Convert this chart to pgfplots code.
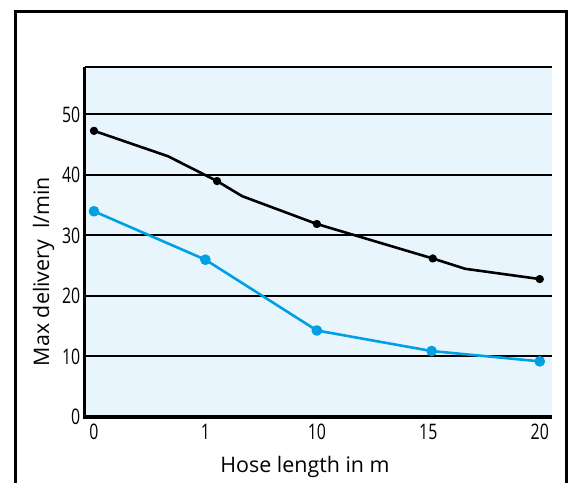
\documentclass[border=0pt]{standalone}
\usepackage{pgfplots}
\pgfplotsset{compat=1.18}
\usepackage{graphicx}
\usepackage{fontspec}
\setmainfont{Open Sans}
\definecolor{bgblue}{RGB}{232,245,253}
\definecolor{lineblue}{RGB}{0,160,227}
\newcommand{\cond}[1]{\scalebox{0.74}[1]{#1}}
\begin{document}
\begin{tikzpicture}
\useasboundingbox (0,0) rectangle (571bp,483bp);
\draw[line width=3bp] (15bp,0) -- (15bp,471.3bp) -- (566bp,471.3bp) -- (566bp,0);
\begin{axis}[
  at={(84.5bp,66bp)}, anchor=south west,
  scale only axis, width=467.5bp, height=349.7bp,
  xmin=-0.085, xmax=4.11, ymin=0, ymax=57.8,
  axis line style={draw=none},
  major tick length=0pt,
  clip=false,
  axis background/.style={fill=bgblue},
  ymajorgrids, grid style={black, line width=2bp},
  xtick={0,1,2,3,4},
  xticklabels={\cond{0},\cond{1},\cond{10},\cond{15},\cond{20}},
  ytick={0,10,20,30,40,50},
  yticklabels={\cond{0},\cond{10},\cond{20},\cond{30},\cond{40},\cond{50}},
  tick label style={font=\fontsize{21.5}{22}\selectfont, inner sep=0pt},
  yticklabel style={anchor=east, xshift=-4bp},
  xticklabel style={anchor=north, yshift=-7bp},
  xlabel={Hose length in m},
  ylabel={Max delivery\ \ l/min},
  label style={font=\fontsize{21.5}{22}\selectfont, inner sep=0pt},
  xlabel style={at={(axis description cs:0.4717,-0.160)}, anchor=base},
  ylabel style={at={(axis description cs:-0.0759,0.416)}, anchor=base},
]
\addplot[black, line width=2.6bp, line join=round, mark=*, mark size=2.8bp,
  mark indices={1,3,5,6,8}, mark options={solid, fill=black}]
  coordinates {(0,47.3) (0.664,43.1) (1.104,39.0) (1.33,36.5) (2,31.9) (3.04,26.2) (3.33,24.5) (4,22.8)};
\addplot[lineblue, line width=2.6bp, line join=round, mark=*, mark size=4bp,
  mark options={solid, fill=lineblue}]
  coordinates {(0,34.0) (1,26.0) (2,14.3) (3.03,10.9) (4,9.2)};
\draw[line width=3bp] (rel axis cs:0,1) -- (rel axis cs:0,0) -- (rel axis cs:1,0);
\draw[line width=2bp] (rel axis cs:0,1) -- (rel axis cs:1,1);
\end{axis}
\end{tikzpicture}
\end{document}
